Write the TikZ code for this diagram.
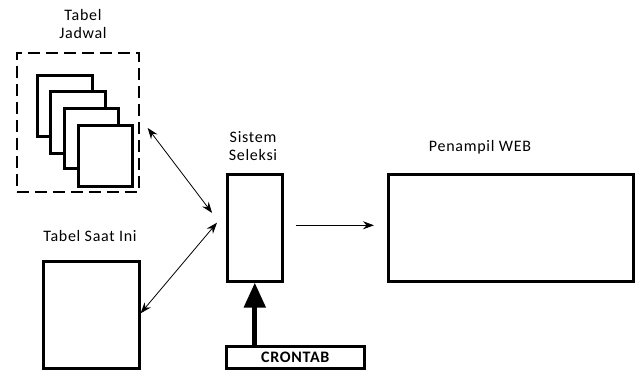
\documentclass[tikz,border=0pt]{standalone}
\usepackage{fontspec}
\setmainfont{Carlito}[LetterSpace=4.5]
\usetikzlibrary{arrows.meta}
\tikzset{
  box/.style={draw, line width=2.6pt, fill=white, inner sep=0pt, anchor=north west},
  lbl/.style={font=\fontsize{16}{18}\selectfont, align=center, inner sep=0pt},
  thin/.style={line width=0.8pt, {Stealth[length=11pt,width=8pt]}-{Stealth[length=11pt,width=8pt]}},
}
\begin{document}
\begin{tikzpicture}[x=1pt,y=-1pt]
\useasboundingbox (0,0) rectangle (640,370);
% Tabel Jadwal
\node[lbl] (tjl) at (83,24) {Tabel\\Jadwal};
\node[draw, dash pattern=on 12pt off 6pt, line width=1.8pt, inner sep=0pt, anchor=north west,
  minimum width=122pt, minimum height=139pt] (jadwal) at (16,52) {};
\node[box, minimum width=55pt, minimum height=61pt] (p1) at (36,74) {};
\node[box, minimum width=55pt, minimum height=62pt] (p2) at (49,90) {};
\node[box, minimum width=54pt, minimum height=60pt] (p3) at (63,107) {};
\node[box, minimum width=54pt, minimum height=61pt] (p4) at (77,124) {};
% Tabel Saat Ini
\node[lbl] (tsl) at (90,236) {Tabel Saat Ini};
\node[box, minimum width=96pt, minimum height=107pt] (saatini) at (42,260) {};
% Sistem Seleksi
\node[lbl] (ssl) at (253,146) {Sistem\\Seleksi};
\node[box, minimum width=55pt, minimum height=107pt] (sistem) at (226,173) {};
% Penampil WEB
\node[lbl] (pwl) at (480,147) {Penampil WEB};
\node[box, minimum width=245pt, minimum height=107pt] (web) at (387,173) {};
% CRONTAB
\node[box, minimum width=138pt, minimum height=22pt] (crontab) at (225,345) {};
\node[lbl, font=\fontsize{16}{18}\selectfont\bfseries] (cl) at (crontab.center) {CRONTAB};
% connectors
\draw[thin, shorten <=13pt, shorten >=23pt] ([yshift=4.8pt]jadwal.east) -- ([yshift=-3.5pt]sistem.west);
\draw[thin, shorten >=14pt] ([yshift=1.5pt]saatini.east) -- ([yshift=15.8pt]sistem.west);
\draw[line width=0.8pt, -{Stealth[length=11pt,width=8pt]}, shorten <=12pt, shorten >=13pt] ([yshift=2.5pt]sistem.east) -- ([yshift=2.5pt]web.west);
\draw[line width=5pt, -{Triangle[length=25pt,width=21pt]}] (crontab.north -| sistem.south) -- (sistem.south);
\end{tikzpicture}
\end{document}
